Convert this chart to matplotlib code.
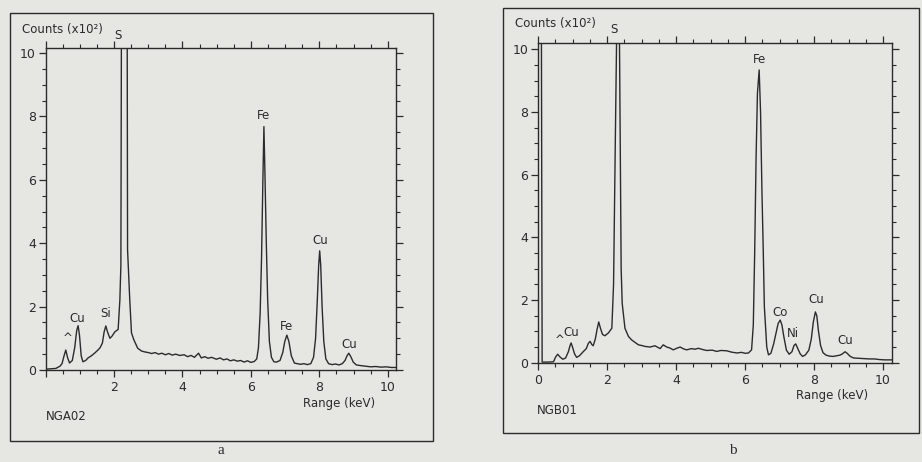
"""Two EDS spectra (NGA02, NGB01): counts vs. energy with peak labels."""

import matplotlib

matplotlib.use("Agg")
import matplotlib.pyplot as plt
from matplotlib.patches import Rectangle
from matplotlib.ticker import MultipleLocator

W, H = 922, 462
BG = "#e6e6e3"
INK = "#2b2b2b"

# ---- panel a (NGA02) ----
a_energy = [0.05, 0.30, 0.42, 0.48, 0.54, 0.59, 0.64, 0.70, 0.78, 0.85,
            0.91, 0.95, 0.99, 1.04, 1.09, 1.17, 1.24, 1.34, 1.44, 1.52,
            1.59, 1.66, 1.71, 1.76, 1.81, 1.88, 1.95, 2.02, 2.12, 2.17,
            2.20, 2.215, 2.30, 2.385, 2.395, 2.46, 2.51, 2.58, 2.69, 2.80,
            2.90, 3.00, 3.10, 3.20, 3.30, 3.40, 3.50, 3.60, 3.70, 3.80,
            3.92, 4.05, 4.15, 4.25, 4.35, 4.47, 4.55, 4.65, 4.75, 4.85,
            4.99, 5.10, 5.20, 5.30, 5.40, 5.50, 5.60, 5.70, 5.80, 5.90,
            6.00, 6.10, 6.17, 6.22, 6.27, 6.31, 6.35, 6.38, 6.41, 6.45,
            6.49, 6.54, 6.60, 6.67, 6.75, 6.85, 6.93, 6.99, 7.05, 7.11,
            7.18, 7.27, 7.35, 7.45, 7.55, 7.65, 7.75, 7.83, 7.89, 7.94,
            7.98, 8.01, 8.04, 8.08, 8.13, 8.19, 8.27, 8.37, 8.47, 8.57,
            8.67, 8.75, 8.81, 8.86, 8.92, 8.99, 9.08, 9.20, 9.35, 9.50,
            9.65, 9.80, 9.95, 10.10, 10.24]
a_counts = [0.03, 0.05, 0.12, 0.20, 0.45, 0.63, 0.40, 0.22, 0.30, 0.70,
            1.25, 1.40, 1.10, 0.45, 0.26, 0.30, 0.38, 0.45, 0.54, 0.62,
            0.70, 0.85, 1.20, 1.39, 1.20, 1.00, 1.08, 1.20, 1.28, 2.20,
            3.30, 10.5, 30.0, 10.5, 3.80, 2.20, 1.17, 0.95, 0.69, 0.60,
            0.57, 0.55, 0.52, 0.55, 0.50, 0.53, 0.48, 0.52, 0.47, 0.50,
            0.46, 0.48, 0.42, 0.46, 0.40, 0.53, 0.38, 0.42, 0.37, 0.40,
            0.34, 0.38, 0.32, 0.35, 0.29, 0.32, 0.28, 0.30, 0.25, 0.29,
            0.24, 0.27, 0.35, 0.70, 1.80, 3.50, 6.00, 7.68, 6.20, 4.00,
            2.20, 0.90, 0.40, 0.26, 0.25, 0.30, 0.55, 0.90, 1.10, 0.90,
            0.45, 0.22, 0.20, 0.18, 0.20, 0.17, 0.20, 0.40, 1.00, 2.20,
            3.30, 3.76, 3.30, 2.00, 0.90, 0.35, 0.20, 0.17, 0.19, 0.16,
            0.20, 0.30, 0.45, 0.53, 0.42, 0.25, 0.16, 0.14, 0.12, 0.10,
            0.11, 0.09, 0.10, 0.08, 0.08]
a_labels = ["^", "Cu", "Si", "S", "Fe", "Fe", "Cu", "Cu"]
a_label_x = [0.64, 0.93, 1.76, 2.12, 6.38, 7.05, 8.02, 8.87]
a_label_y = [1.00, 1.61, 1.77, 10.57, 8.04, 1.37, 4.08, 0.82]

# ---- panel b (NGB01) ----
b_energy = [0.00, 0.09, 0.12, 0.30, 0.45, 0.51, 0.57, 0.64, 0.72, 0.80,
            0.88, 0.93, 0.96, 1.00, 1.06, 1.12, 1.20, 1.31, 1.40, 1.46,
            1.51, 1.56, 1.60, 1.66, 1.71, 1.76, 1.81, 1.87, 1.94, 2.04,
            2.14, 2.19, 2.24, 2.28, 2.32, 2.36, 2.41, 2.44, 2.52, 2.62,
            2.71, 2.81, 2.91, 3.00, 3.10, 3.25, 3.39, 3.54, 3.63, 3.73,
            3.82, 3.92, 4.02, 4.12, 4.22, 4.31, 4.45, 4.55, 4.65, 4.77,
            4.89, 5.05, 5.18, 5.30, 5.47, 5.60, 5.76, 5.90, 6.00, 6.10,
            6.19, 6.24, 6.28, 6.32, 6.36, 6.41, 6.45, 6.49, 6.53, 6.56,
            6.63, 6.68, 6.75, 6.83, 6.90, 6.96, 7.02, 7.07, 7.13, 7.20,
            7.28, 7.36, 7.42, 7.47, 7.53, 7.60, 7.67, 7.75, 7.85, 7.92,
            7.98, 8.04, 8.08, 8.13, 8.19, 8.26, 8.35, 8.45, 8.55, 8.65,
            8.75, 8.82, 8.90, 8.96, 9.05, 9.15, 9.30, 9.45, 9.60, 9.75,
            9.90, 10.05, 10.26]
b_counts = [15.0, 15.0, 0.02, 0.02, 0.03, 0.18, 0.27, 0.18, 0.11, 0.15,
            0.35, 0.55, 0.63, 0.50, 0.28, 0.17, 0.22, 0.35, 0.45, 0.62,
            0.68, 0.58, 0.54, 0.75, 1.05, 1.30, 1.10, 0.90, 0.86, 0.95,
            1.10, 2.50, 7.00, 10.5, 12.0, 10.5, 3.00, 1.90, 1.10, 0.84,
            0.73, 0.65, 0.57, 0.55, 0.52, 0.50, 0.54, 0.45, 0.57, 0.50,
            0.47, 0.41, 0.46, 0.50, 0.44, 0.41, 0.45, 0.43, 0.46, 0.42,
            0.39, 0.40, 0.36, 0.39, 0.38, 0.34, 0.31, 0.33, 0.30, 0.31,
            0.41, 1.20, 3.50, 6.50, 8.60, 9.34, 8.00, 5.50, 3.50, 1.80,
            0.50, 0.25, 0.30, 0.60, 0.95, 1.25, 1.36, 1.20, 0.80, 0.40,
            0.27, 0.35, 0.55, 0.60, 0.45, 0.28, 0.20, 0.25, 0.40, 0.75,
            1.30, 1.62, 1.50, 1.00, 0.55, 0.32, 0.24, 0.21, 0.20, 0.22,
            0.24, 0.28, 0.35, 0.30, 0.20, 0.15, 0.14, 0.13, 0.12, 0.12,
            0.10, 0.09, 0.09]
b_labels = ["^", "Cu", "S", "Fe", "Co", "Ni", "Cu", "Cu"]
b_label_x = [0.64, 0.96, 2.20, 6.41, 7.01, 7.40, 8.06, 8.90]
b_label_y = [0.70, 0.97, 10.62, 9.66, 1.60, 0.94, 2.02, 0.70]

x_ticks = [0, 2, 4, 6, 8, 10]
y_ticks = [0, 2, 4, 6, 8, 10]


def fx(px):
    return px / W


def fy(py):
    return 1 - py / H


def draw_spectrum(ax, energy, counts, xmax, ymax, labels, lx, ly, show_zero):
    ax.set_facecolor("none")
    ax.plot(energy, counts, color=INK, lw=1.0)
    ax.set_xlim(0, xmax)
    ax.set_ylim(0, ymax)
    ax.set_xticks(x_ticks)
    ax.set_xticklabels([str(t) if (t or show_zero) else "" for t in x_ticks])
    ax.set_yticks(y_ticks)
    ax.xaxis.set_minor_locator(MultipleLocator(0.5))
    ax.yaxis.set_minor_locator(MultipleLocator(0.5))
    ax.tick_params(which="both", direction="out", top=True, right=True,
                   color=INK, labelcolor=INK, labelsize=9)
    ax.tick_params(which="major", length=5, width=0.9)
    ax.tick_params(which="minor", length=3, width=0.8)
    ax.tick_params(axis="x", pad=3)
    ax.tick_params(axis="y", pad=2)
    for s in ax.spines.values():
        s.set_color(INK)
        s.set_linewidth(1.0)
    for t, x, y in zip(labels, lx, ly):
        ax.text(x, y, t, ha="center", va="center", fontsize=8.5,
                color=INK, clip_on=False)


fig = plt.figure(figsize=(W / 100, H / 100), dpi=100)
fig.patch.set_facecolor(BG)

ax_a = fig.add_axes([fx(45.6), fy(370), 350.4 / W, 322 / H])
draw_spectrum(ax_a, a_energy, a_counts, 10.24, 10.16,
              a_labels, a_label_x, a_label_y, show_zero=False)

ax_b = fig.add_axes([fx(538), fy(362.7), 354 / W, 319.7 / H])
draw_spectrum(ax_b, b_energy, b_counts, 10.26, 10.2,
              b_labels, b_label_x, b_label_y, show_zero=True)

# outer frames around each plot
for x0, y0, x1, y1 in [(10, 13, 433, 441), (503, 8, 919, 433)]:
    fig.add_artist(Rectangle((fx(x0), fy(y1)), (x1 - x0) / W, (y1 - y0) / H,
                             transform=fig.transFigure, fill=False,
                             ec=INK, lw=1.0))

txt = dict(color=INK, fontsize=8.5, va="center")
fig.text(fx(22), fy(29), "Counts (x10²)", ha="left", **txt)
fig.text(fx(515), fy(24), "Counts (x10²)", ha="left", **txt)
fig.text(fx(339), fy(403), "Range (keV)", ha="center", **txt)
fig.text(fx(832), fy(396), "Range (keV)", ha="center", **txt)
fig.text(fx(46), fy(417), "NGA02", ha="left", **txt)
fig.text(fx(537), fy(410), "NGB01", ha="left", **txt)
fig.text(fx(221), fy(451), "a", ha="center", va="center", fontsize=11,
         family="Liberation Serif", color=INK)
fig.text(fx(733), fy(451), "b", ha="center", va="center", fontsize=11,
         family="Liberation Serif", color=INK)

fig.savefig("out.png", dpi=100, facecolor=fig.get_facecolor())
